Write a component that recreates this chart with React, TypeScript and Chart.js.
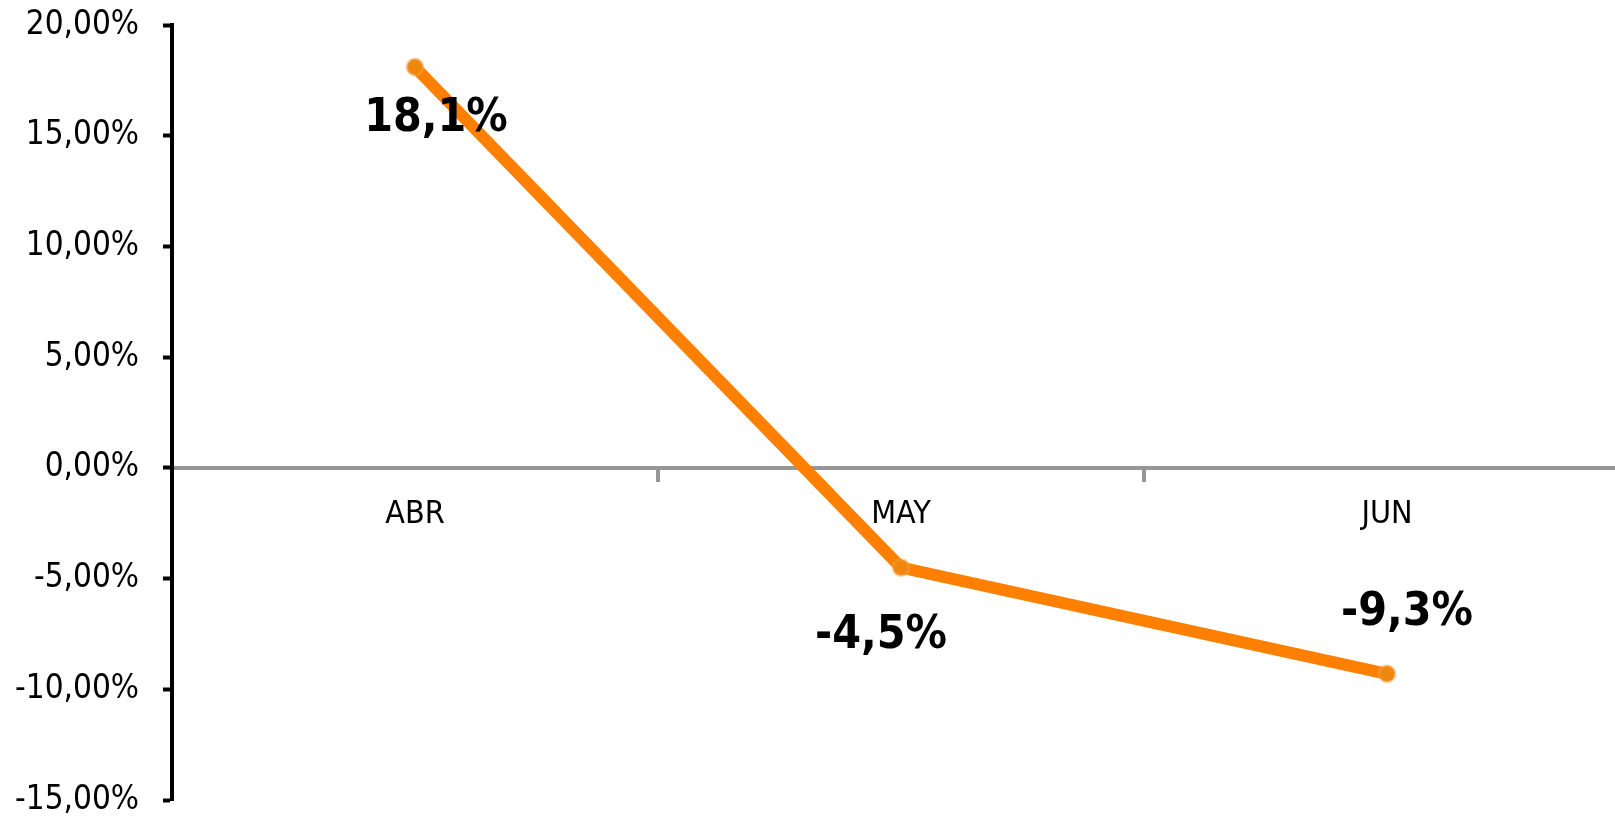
import React, { useEffect, useRef } from "react";
import { Chart, registerables } from "chart.js";

Chart.register(...registerables);

const categories = ["ABR", "MAY", "JUN"];
const values = [18.1, -4.5, -9.3];
const valueLabels = ["18,1%", "-4,5%", "-9,3%"];
const yTicks = { min: -15, max: 20, step: 5 };
// label baseline offsets from each point (style only)
const labelOffsets = [
  [21, 64],
  [-20, 80],
  [20, -49],
];

const FONT = "'DejaVu Sans Condensed', 'DejaVu Sans', Verdana, sans-serif";

const valueLabelPlugin = {
  id: "valueLabels",
  afterDatasetsDraw(chart: any) {
    const meta = chart.getDatasetMeta(0);
    const ctx = chart.ctx;
    ctx.save();
    ctx.font = `bold 46px ${FONT}`;
    ctx.fillStyle = "#000000";
    ctx.textAlign = "center";
    ctx.textBaseline = "alphabetic";
    meta.data.forEach((pt: any, i: number) => {
      const [dx, dy] = labelOffsets[i];
      ctx.fillText(valueLabels[i], pt.x + dx, pt.y + dy);
    });
    ctx.restore();
  },
};

const zeroPad = (scale: any) => {
  scale.paddingTop = 0;
  scale.paddingBottom = 0;
  scale.paddingLeft = 0;
  scale.paddingRight = 0;
};

export default function App() {
  const ref = useRef<HTMLCanvasElement>(null);
  useEffect(() => {
    document.body.style.margin = "0";
    const chart = new Chart(ref.current!, {
      type: "line",
      data: {
        labels: categories,
        datasets: [
          {
            data: values,
            borderColor: "#FF8000",
            borderWidth: 12,
            backgroundColor: "#EE870C",
            pointBackgroundColor: "#EE870C",
            pointBorderColor: "rgba(245,160,70,0.45)",
            pointBorderWidth: 3,
            pointRadius: 8,
            pointStyle: "circle",
            tension: 0,
            fill: false,
          },
        ],
      },
      options: {
        responsive: false,
        animation: false,
        layout: { padding: { top: 25, bottom: 22, left: 0, right: 0 } },
        plugins: {
          legend: { display: false },
          tooltip: { enabled: false },
          title: { display: false },
        },
        scales: {
          x: {
            type: "category",
            position: { y: 0 } as any,
            offset: true,
            afterFit: (scale: any) => {
              scale.height = 0;
              zeroPad(scale);
            },
            grid: {
              display: true,
              drawOnChartArea: false,
              drawTicks: true,
              tickLength: 12,
              tickColor: "#969696",
              tickWidth: 4,
              color: "#969696",
              lineWidth: 4,
              offset: true,
            },
            border: { display: true, color: "#969696", width: 4 },
            ticks: {
              color: "#000000",
              font: { family: FONT, size: 32 },
              padding: 16,
              maxRotation: 0,
            },
          },
          y: {
            min: yTicks.min,
            max: yTicks.max,
            afterFit: (scale: any) => {
              scale.width = 172;
              zeroPad(scale);
            },
            grid: {
              display: true,
              drawOnChartArea: false,
              drawTicks: true,
              tickLength: 9,
              tickColor: "#000000",
              tickWidth: 4,
            },
            border: { display: true, color: "#000000", width: 4 },
            ticks: {
              stepSize: yTicks.step,
              color: "#000000",
              font: { family: FONT, size: 33 },
              padding: 24,
              callback: (v: any) => Number(v).toFixed(2).replace(".", ",") + "%",
            },
          },
        },
      },
      plugins: [valueLabelPlugin],
    });
    return () => chart.destroy();
  }, []);

  return (
    <div
      style={{
        position: "fixed",
        left: 0,
        top: 0,
        width: 1615,
        height: 822,
        overflow: "hidden",
        background: "#ffffff",
      }}
    >
      <canvas
        ref={ref}
        width={1641}
        height={822}
        style={{ width: 1641, height: 822, display: "block" }}
      />
    </div>
  );
}
